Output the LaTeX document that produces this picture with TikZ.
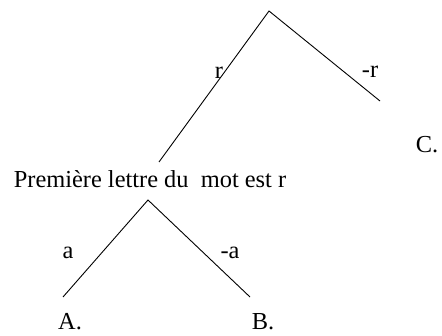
\documentclass[tikz,border=0pt]{standalone}
\usepackage{fontspec}
\setmainfont{Liberation Serif}
\usepackage{tikz}
\usetikzlibrary{positioning}

\begin{document}
\begin{tikzpicture}[x=1pt,y=-1pt,
  branch/.style={line width=0.9pt},
  lbl/.style={font=\fontsize{24.4}{28}\selectfont, inner sep=0pt}]
\useasboundingbox (0,0) rectangle (442,336);
% first split
\coordinate (root) at (269,11);
\coordinate (rend) at (159,162);
\coordinate (nrend) at (380,101);
\draw[branch] (rend) -- (root) -- (nrend);
\node[lbl] (lr) at (219,73) {r};
\node[lbl] (lnr) at (370,72) {-r};
\node[lbl] (c) at (427,145) {C.};
% second split
\node[lbl] (mot) at (150,179) {Première lettre du \ mot est r};
\coordinate (sub) at (148,200);
\coordinate (aend) at (63,297);
\coordinate (naend) at (250,297);
\draw[branch] (aend) -- (sub) -- (naend);
\node[lbl] (la) at (68,253) {a};
\node[lbl] (lna) at (230,253) {-a};
\node[lbl] (a) at (70,322) {A.};
\node[lbl] (b) at (263,322) {B.};
\end{tikzpicture}
\end{document}
